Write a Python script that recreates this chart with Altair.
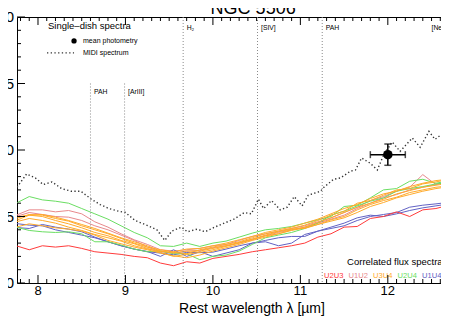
import altair as alt
import pandas as pd

FONT = "Liberation Sans"

# ---------------- data ----------------
LAM = [7.75, 7.90, 8.05, 8.20, 8.35, 8.50, 8.65, 8.80, 8.95, 9.10, 9.25, 9.40,
       9.55, 9.70, 9.85, 10.00, 10.15, 10.30, 10.45, 10.60, 10.75, 10.90, 11.05,
       11.20, 11.35, 11.50, 11.65, 11.80, 11.95, 12.10, 12.25, 12.40, 12.55, 12.70]

U2U3_1 = [0.28, 0.25, 0.28, 0.27, 0.28, 0.26, 0.235, 0.225, 0.215, 0.20, 0.19, 0.15,
          0.13, 0.16, 0.15, 0.185, 0.20, 0.215, 0.235, 0.25, 0.265, 0.28, 0.30,
          0.345, 0.37, 0.42, 0.425, 0.485, 0.50, 0.535, 0.50, 0.55, 0.56, 0.585]
U1U2_1 = [0.51, 0.55, 0.55, 0.535, 0.545, 0.52, 0.46, 0.42, 0.37, 0.325, 0.29, 0.25,
          0.24, 0.25, 0.26, 0.28, 0.29, 0.32, 0.35, 0.37, 0.39, 0.41, 0.43,
          0.46, 0.49, 0.53, 0.57, 0.62, 0.65, 0.69, 0.72, 0.815, 0.74, 0.77]
U1U2_2 = [0.50, 0.53, 0.515, 0.50, 0.495, 0.47, 0.43, 0.40, 0.36, 0.32, 0.27, 0.235,
          0.225, 0.24, 0.245, 0.265, 0.28, 0.30, 0.33, 0.355, 0.38, 0.40, 0.42,
          0.45, 0.48, 0.51, 0.56, 0.60, 0.64, 0.665, 0.70, 0.72, 0.74, 0.76]
U3U4_1 = [0.47, 0.51, 0.515, 0.495, 0.47, 0.44, 0.41, 0.375, 0.34, 0.31, 0.28, 0.24,
          0.23, 0.22, 0.25, 0.27, 0.29, 0.31, 0.34, 0.37, 0.39, 0.41, 0.435,
          0.47, 0.51, 0.54, 0.60, 0.62, 0.66, 0.70, 0.71, 0.745, 0.76, 0.78]
U3U4_2 = [0.495, 0.51, 0.50, 0.47, 0.445, 0.415, 0.38, 0.355, 0.32, 0.295, 0.26, 0.23,
          0.20, 0.215, 0.23, 0.25, 0.275, 0.30, 0.325, 0.355, 0.37, 0.40, 0.42,
          0.455, 0.49, 0.53, 0.57, 0.60, 0.63, 0.67, 0.695, 0.72, 0.735, 0.75]
U3U4_3 = [0.46, 0.485, 0.47, 0.45, 0.42, 0.395, 0.365, 0.34, 0.315, 0.28, 0.255, 0.24,
          0.225, 0.24, 0.24, 0.26, 0.28, 0.305, 0.33, 0.36, 0.385, 0.405, 0.41,
          0.44, 0.475, 0.50, 0.55, 0.59, 0.62, 0.645, 0.68, 0.70, 0.72, 0.73]
U3U4_4 = [0.42, 0.445, 0.43, 0.415, 0.405, 0.39, 0.36, 0.32, 0.295, 0.27, 0.25, 0.225,
          0.205, 0.19, 0.21, 0.24, 0.265, 0.29, 0.32, 0.345, 0.37, 0.395, 0.415,
          0.44, 0.465, 0.49, 0.53, 0.575, 0.605, 0.64, 0.665, 0.69, 0.71, 0.725]
U3U4_5 = [0.485, 0.515, 0.51, 0.485, 0.465, 0.43, 0.40, 0.37, 0.335, 0.30, 0.27, 0.25,
          0.235, 0.255, 0.26, 0.28, 0.30, 0.325, 0.35, 0.38, 0.40, 0.42, 0.45,
          0.48, 0.52, 0.56, 0.59, 0.635, 0.67, 0.69, 0.725, 0.75, 0.77, 0.78]
U2U4_1 = [0.60, 0.65, 0.625, 0.615, 0.60, 0.56, 0.52, 0.48, 0.43, 0.38, 0.34, 0.28,
          0.275, 0.30, 0.275, 0.30, 0.315, 0.345, 0.375, 0.40, 0.41, 0.425, 0.45,
          0.475, 0.50, 0.575, 0.585, 0.64, 0.70, 0.71, 0.765, 0.78, 0.75, 0.77]
U2U4_2 = [0.42, 0.395, 0.385, 0.38, 0.385, 0.37, 0.31, 0.31, 0.285, 0.255, 0.235, 0.24,
          0.22, 0.22, 0.175, 0.20, 0.21, 0.24, 0.29, 0.34, 0.36, 0.38, 0.41,
          0.45, 0.51, 0.54, 0.58, 0.615, 0.64, 0.69, 0.71, 0.725, 0.745, 0.755]
U1U4_1 = [0.417, 0.41, 0.44, 0.42, 0.405, 0.385, 0.345, 0.31, 0.28, 0.255, 0.237, 0.20,
          0.25, 0.20, 0.235, 0.20, 0.225, 0.25, 0.30, 0.31, 0.28, 0.30, 0.365,
          0.39, 0.42, 0.45, 0.49, 0.51, 0.50, 0.52, 0.545, 0.565, 0.58, 0.595]
U1U4_2 = [0.447, 0.435, 0.43, 0.40, 0.38, 0.36, 0.34, 0.31, 0.28, 0.255, 0.235, 0.225,
          0.212, 0.23, 0.228, 0.232, 0.255, 0.28, 0.30, 0.32, 0.34, 0.35, 0.35,
          0.39, 0.41, 0.43, 0.47, 0.50, 0.515, 0.53, 0.57, 0.585, 0.595, 0.607]

MIDI_LAM = [7.76, 7.87, 7.97, 8.06, 8.16, 8.27, 8.38, 8.49, 8.61, 8.71, 8.81, 8.92,
            9.00, 9.11, 9.26, 9.36, 9.45, 9.53, 9.64, 9.71, 9.82, 9.91, 10.02, 10.13,
            10.24, 10.36, 10.44, 10.52, 10.58, 10.67, 10.77, 10.85, 10.93, 11.02,
            11.09, 11.23, 11.27, 11.38, 11.46, 11.57, 11.63, 11.70, 11.80, 11.88,
            11.95, 12.05, 12.14, 12.28, 12.37, 12.47, 12.54, 12.68, 12.75]
MIDI_F = [0.72, 0.82, 0.79, 0.74, 0.76, 0.71, 0.69, 0.69, 0.63, 0.59, 0.56, 0.54,
          0.53, 0.47, 0.43, 0.40, 0.32, 0.39, 0.42, 0.385, 0.405, 0.385, 0.42, 0.45,
          0.48, 0.53, 0.52, 0.63, 0.56, 0.62, 0.55, 0.57, 0.65, 0.58,
          0.66, 0.69, 0.72, 0.78, 0.79, 0.84, 0.85, 0.94, 0.90, 0.85,
          0.96, 1.06, 0.99, 1.09, 1.02, 1.14, 1.08, 1.15, 1.07]

PHOT_LAM = [12.0]
PHOT_F = [0.965]
PHOT_XERR = [0.20]
PHOT_YERR = [0.08]

LINE_NAMES = ["PAH", "[ArIII]", "H₂", "[SIV]", "PAH", "[NeII]"]
LINE_LAM = [8.60, 8.99, 9.66, 10.51, 11.25, 12.81]
LINE_TOP = [1.50, 1.50, 2.0, 2.0, 2.0, 2.0]
LABEL_LAM = [8.64, 9.03, 9.70, 10.55, 11.29, 12.50]
LABEL_F = [1.437, 1.437, 1.919, 1.919, 1.919, 1.919]

BASELINES = ["U2U3", "U1U2", "U3U4", "U2U4", "U1U4"]
COLORS = ["#ff3b3b", "#e8898c", "#ffaa2a", "#6ade62", "#6262c4"]
BASELINE_LABEL_LAM = [11.271, 11.551, 11.831, 12.111, 12.391]

X_DOMAIN = [7.76, 12.608]
Y_DOMAIN = [0.0, 2.0]
X_MAJOR = [8, 9, 10, 11, 12]
X_LABELS = ["8", "9", "10", "11", "12"]
Y_MAJOR = [0.0, 0.5, 1.0, 1.5, 2.0]
Y_LABELS = ["0.0", "0.5", "1.0", "1.5", "2.0"]
X_MINOR = [round(7.8 + 0.1 * i, 1) for i in range(49) if round(7.8 + 0.1 * i, 1) not in X_MAJOR]
Y_MINOR = [round(0.1 * i, 1) for i in range(1, 20) if round(0.1 * i, 1) not in Y_MAJOR]

W, H = 424, 266

# ---------------- tables ----------------
series = [
    ("U1U2", "U1U2_1", U1U2_1), ("U1U2", "U1U2_2", U1U2_2),
    ("U1U4", "U1U4_1", U1U4_1), ("U1U4", "U1U4_2", U1U4_2),
    ("U2U4", "U2U4_1", U2U4_1), ("U2U4", "U2U4_2", U2U4_2),
    ("U3U4", "U3U4_1", U3U4_1), ("U3U4", "U3U4_2", U3U4_2),
    ("U3U4", "U3U4_3", U3U4_3), ("U3U4", "U3U4_4", U3U4_4),
    ("U3U4", "U3U4_5", U3U4_5),
    ("U2U3", "U2U3_1", U2U3_1),
]
rows = []
for bl, obs, vals in series:
    for lam, f in zip(LAM, vals):
        rows.append({"lam": lam, "flux": f, "baseline": bl, "obs": obs})
spec_df = pd.DataFrame(rows)
midi_df = pd.DataFrame({"lam": MIDI_LAM, "flux": MIDI_F})
phot_df = pd.DataFrame({"lam": PHOT_LAM, "flux": PHOT_F, "xerr": PHOT_XERR, "yerr": PHOT_YERR})
lines_df = pd.DataFrame({"name": LINE_NAMES, "lam": LINE_LAM, "top": LINE_TOP,
                         "llam": LABEL_LAM, "lf": LABEL_F})
bl_df = pd.DataFrame({"baseline": BASELINES, "lam": BASELINE_LABEL_LAM, "f": [0.052] * 5})

xs = alt.Scale(domain=X_DOMAIN, nice=False, zero=False)
ys = alt.Scale(domain=Y_DOMAIN, nice=False, zero=False)
cs = alt.Scale(domain=BASELINES, range=COLORS)

# axis carrier (axes drawn invisibly; labels are text marks below)
midi = alt.Chart(midi_df).mark_line(
    color="#333333", strokeDash=[1.3, 2.4], strokeWidth=1.4, clip=True
).encode(
    x=alt.X("lam:Q", scale=xs, axis=alt.Axis(
        values=X_MAJOR, labels=False, ticks=False, tickSize=0, grid=False,
        domain=False, title=None)),
    y=alt.Y("flux:Q", scale=ys, axis=alt.Axis(
        values=Y_MAJOR, labels=False, ticks=False, tickSize=0, grid=False,
        domain=False, title=None)),
)


def X(f):
    return alt.X(f, type="quantitative", scale=xs, axis=None)


def Y(f):
    return alt.Y(f, type="quantitative", scale=ys, axis=None)


spec_layers = []
for order_bl in ["U1U2", "U1U4", "U2U4", "U3U4", "U2U3"]:
    spec_layers.append(
        alt.Chart(spec_df).transform_filter(alt.datum.baseline == order_bl)
        .mark_line(strokeWidth=1, clip=True)
        .encode(x=X("lam"), y=Y("flux"),
                color=alt.Color("baseline:N", scale=cs, legend=None),
                detail="obs:N")
    )

vlines = alt.Chart(lines_df).mark_rule(
    color="#8a8a8a", strokeDash=[1, 2], strokeWidth=1, clip=True
).encode(x=X("lam"), y=Y("top"), y2=alt.datum(0.0))
vlabels = alt.Chart(lines_df).mark_text(
    align="left", baseline="middle", fontSize=6.8, font=FONT, color="black"
).encode(x=X("llam"), y=Y("lf"), text="name:N")

# photometry point with error bars
phot_x = alt.Chart(phot_df).transform_calculate(
    x1="datum.lam - datum.xerr", x2="datum.lam + datum.xerr"
).mark_rule(color="black", strokeWidth=1.5).encode(x=X("x1"), x2="x2:Q", y=Y("flux"))
phot_y = alt.Chart(phot_df).transform_calculate(
    y1="datum.flux - datum.yerr", y2="datum.flux + datum.yerr"
).mark_rule(color="black", strokeWidth=1.5).encode(x=X("lam"), y=Y("y1"), y2="y2:Q")
capx = alt.Chart(phot_df).transform_calculate(
    xa="datum.lam - datum.xerr", xb="datum.lam + datum.xerr"
).transform_fold(["xa", "xb"], as_=["side", "xc"]).mark_tick(
    color="black", orient="vertical", size=7, thickness=1.5
).encode(x=X("xc"), y=Y("flux"))
capy = alt.Chart(phot_df).transform_calculate(
    ya="datum.flux - datum.yerr", yb="datum.flux + datum.yerr"
).transform_fold(["ya", "yb"], as_=["side", "yc"]).mark_tick(
    color="black", orient="horizontal", size=7, thickness=1.5
).encode(x=X("lam"), y=Y("yc"))
phot_pt = alt.Chart(phot_df).mark_point(
    filled=True, color="black", size=90, opacity=1
).encode(x=X("lam"), y=Y("flux"))

# single-dish legend (top left)
leg_title = alt.Chart(pd.DataFrame({"lam": [8.114], "flux": [1.933], "t": ["Single–dish spectra"]})).mark_text(
    align="left", baseline="middle", fontSize=9.5, font=FONT, color="black"
).encode(x=X("lam"), y=Y("flux"), text="t:N")
leg_dot = alt.Chart(pd.DataFrame({"lam": [8.412], "flux": [1.82]})).mark_point(
    filled=True, color="black", size=28, opacity=1
).encode(x=X("lam"), y=Y("flux"))
leg_line = alt.Chart(pd.DataFrame({"lam": [8.103], "lam2": [8.412], "flux": [1.731]})).mark_rule(
    color="#333333", strokeDash=[1.3, 2.4], strokeWidth=1.3
).encode(x=X("lam"), x2="lam2:Q", y=Y("flux"))
leg_txt = alt.Chart(pd.DataFrame({"lam": [8.515, 8.515], "flux": [1.82, 1.731],
                                  "t": ["mean photometry", "MIDI spectrum"]})).mark_text(
    align="left", baseline="middle", fontSize=7, font=FONT, color="black"
).encode(x=X("lam"), y=Y("flux"), text="t:N")

# correlated flux legend (bottom right)
corr_title = alt.Chart(pd.DataFrame({"lam": [11.534], "flux": [0.156], "t": ["Correlated flux spectra"]})).mark_text(
    align="left", baseline="middle", fontSize=9.5, font=FONT, color="black"
).encode(x=X("lam"), y=Y("flux"), text="t:N")
corr_lbl = alt.Chart(bl_df).mark_text(
    align="left", baseline="middle", fontSize=7.6, font=FONT
).encode(x=X("lam"), y=Y("f"), text="baseline:N",
         color=alt.Color("baseline:N", scale=cs, legend=None))

# title
title = alt.Chart(pd.DataFrame({"lam": [10.46], "flux": [2.022], "t": ["NGC 5506"]})).mark_text(
    align="center", baseline="alphabetic", fontSize=18, font=FONT, color="black"
).encode(x=X("lam"), y=Y("flux"), text="t:N")

# axis labels drawn as text
xlab = alt.Chart(pd.DataFrame({"v": X_MAJOR, "t": X_LABELS, "f": [0.0] * 5})).mark_text(
    align="center", baseline="top", fontSize=13, font=FONT, color="black", dy=2
).encode(x=X("v"), y=Y("f"), text="t:N")
ylab = alt.Chart(pd.DataFrame({"v": Y_MAJOR, "t": Y_LABELS, "l": [X_DOMAIN[0]] * 5})).mark_text(
    align="right", baseline="middle", fontSize=15, font=FONT, color="black", dx=-3
).encode(y=Y("v"), x=X("l"), text="t:N")
xtitle = alt.Chart(pd.DataFrame({"lam": [10.447], "f": [0.0], "t": ["Rest wavelength λ [µm]"]})).mark_text(
    align="center", baseline="alphabetic", fontSize=14, font=FONT, color="black", dy=30
).encode(x=X("lam"), y=Y("f"), text="t:N")


# inward ticks
def xticks(vals, y0, y1):
    return alt.Chart(pd.DataFrame({"t": vals})).mark_rule(color="black", strokeWidth=1).encode(
        x=X("t"), y=alt.value(y0), y2=alt.value(y1))


def yticks(vals, x0, x1):
    return alt.Chart(pd.DataFrame({"t": vals})).mark_rule(color="black", strokeWidth=1).encode(
        y=Y("t"), x=alt.value(x0), x2=alt.value(x1))


ticks = [
    xticks(X_MAJOR, H, H - 8), xticks(X_MINOR, H, H - 4),
    xticks(X_MAJOR, 0, 8), xticks(X_MINOR, 0, 4),
    yticks(Y_MAJOR, 0, 8), yticks(Y_MINOR, 0, 4),
]

chart = alt.layer(
    midi, *spec_layers, vlines, vlabels,
    phot_x, phot_y, capx, capy, phot_pt,
    leg_title, leg_dot, leg_line, leg_txt, corr_title, corr_lbl, title,
    xlab, ylab, xtitle, *ticks
).properties(
    width=W, height=H,
    autosize=alt.AutoSizeParams(type="none"),
    padding={"left": 9, "top": 9, "right": 0, "bottom": 33},
).configure_view(stroke="black", strokeWidth=1)

chart.save("out.html", embed_options={"renderer": "svg", "actions": False})
